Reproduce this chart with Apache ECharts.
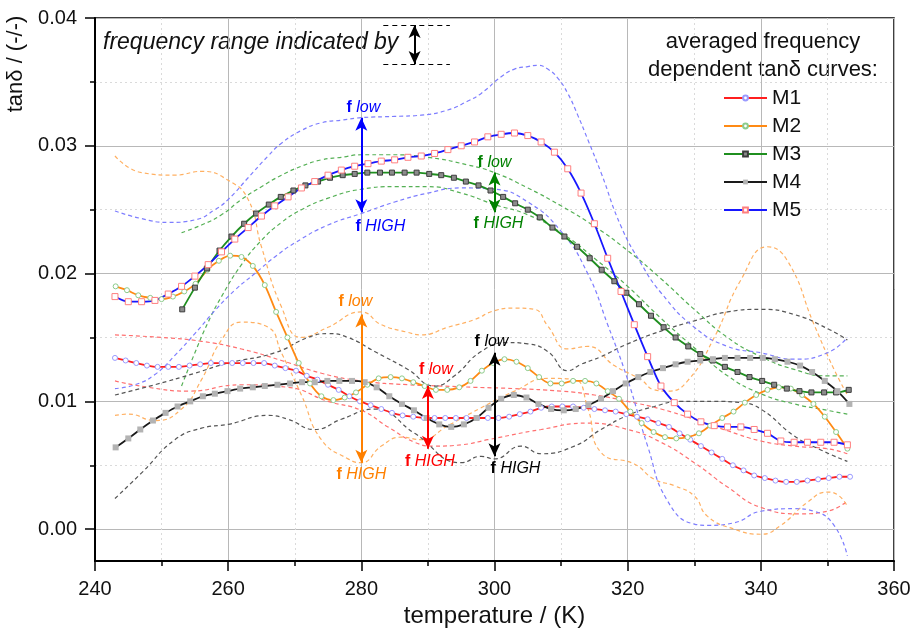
<!DOCTYPE html>
<html>
<head>
<meta charset="utf-8">
<title>tanδ vs temperature</title>
<script src="https://cdn.jsdelivr.net/npm/echarts@6/dist/echarts.min.js"></script>
<style>
  html, body { margin: 0; padding: 0; background: #fff; }
  #chart { width: 917px; height: 633px; }
</style>
</head>
<body>
<div id="chart"></div>
<script>
// averaged tanδ curves (markers), temperature in K
const m1T = [243.0, 244.6, 246.2, 247.8, 249.4, 251.0, 252.6, 254.2, 255.8, 257.4, 259.0, 260.6, 262.2, 263.8, 265.4, 267.0, 268.6, 270.2, 271.8, 273.4, 275.0, 276.6, 278.2, 279.8, 281.4, 283.0, 284.6, 286.2, 287.8, 289.4, 291.0, 292.6, 294.2, 295.8, 297.4, 299.0, 300.6, 302.2, 303.8, 305.4, 307.0, 308.6, 310.2, 311.8, 313.4, 315.0, 316.6, 318.2, 319.8, 321.4, 323.0, 324.6, 326.2, 327.8, 329.4, 331.0, 332.6, 334.2, 335.8, 337.4, 339.0, 340.6, 342.2, 343.8, 345.4, 347.0, 348.6, 350.2, 351.8, 353.4];
const m1 = [0.0134, 0.0132, 0.0130, 0.0128, 0.0127, 0.0127, 0.0127, 0.0128, 0.0129, 0.0130, 0.0130, 0.0130, 0.0130, 0.0130, 0.0130, 0.0128, 0.0126, 0.0124, 0.0120, 0.0117, 0.0113, 0.0109, 0.0104, 0.0100, 0.0097, 0.0094, 0.0091, 0.0089, 0.0088, 0.0087, 0.0087, 0.0087, 0.0087, 0.0087, 0.0087, 0.0087, 0.0087, 0.0088, 0.0090, 0.0092, 0.0095, 0.0096, 0.0096, 0.0096, 0.0095, 0.0094, 0.0093, 0.0092, 0.0090, 0.0088, 0.0086, 0.0083, 0.0080, 0.0075, 0.0070, 0.0065, 0.0060, 0.0055, 0.0050, 0.0046, 0.0042, 0.0040, 0.0038, 0.0037, 0.0037, 0.0038, 0.0039, 0.0040, 0.0041, 0.0041];

const m2T = [243.1, 244.8, 246.5, 248.3, 250.0, 251.7, 253.4, 255.1, 256.9, 258.6, 260.3, 262.0, 263.7, 265.5, 267.2, 268.9, 270.6, 272.3, 274.0, 275.8, 277.5, 279.2, 280.9, 282.6, 284.4, 286.1, 287.8, 289.5, 291.2, 292.9, 294.7, 296.4, 298.1, 299.8, 301.5, 303.3, 305.0, 306.7, 308.4, 310.1, 311.8, 313.6, 315.3, 317.0, 318.7, 320.4, 322.1, 323.9, 325.6, 327.3, 329.0, 330.7, 332.4, 334.2, 335.9, 337.6, 339.3, 341.0, 342.7, 344.5, 346.2, 347.9, 349.6, 351.3, 353.0];
const m2 = [0.0190, 0.0187, 0.0183, 0.0181, 0.0180, 0.0182, 0.0186, 0.0192, 0.0203, 0.0210, 0.0214, 0.0213, 0.0206, 0.0191, 0.0170, 0.0150, 0.0130, 0.0114, 0.0104, 0.0101, 0.0103, 0.0107, 0.0113, 0.0118, 0.0119, 0.0118, 0.0115, 0.0112, 0.0109, 0.0109, 0.0111, 0.0116, 0.0124, 0.0130, 0.0133, 0.0131, 0.0126, 0.0119, 0.0114, 0.0114, 0.0116, 0.0116, 0.0114, 0.0108, 0.0102, 0.0092, 0.0083, 0.0076, 0.0072, 0.0071, 0.0072, 0.0075, 0.0081, 0.0087, 0.0092, 0.0099, 0.0105, 0.0109, 0.0111, 0.0110, 0.0105, 0.0098, 0.0088, 0.0076, 0.0063];

const m3T = [253.1, 255.0, 256.8, 258.7, 260.5, 262.4, 264.2, 266.1, 267.9, 269.8, 271.6, 273.5, 275.3, 277.2, 279.0, 280.9, 282.8, 284.6, 286.5, 288.3, 290.2, 292.0, 293.9, 295.7, 297.6, 299.4, 301.3, 303.1, 305.0, 306.8, 308.7, 310.5, 312.4, 314.3, 316.1, 318.0, 319.8, 321.7, 323.5, 325.4, 327.2, 329.1, 330.9, 332.8, 334.6, 336.5, 338.3, 340.2, 342.0, 343.9, 345.8, 347.6, 349.5, 351.3, 353.2];
const m3 = [0.0172, 0.0189, 0.0204, 0.0218, 0.0229, 0.0239, 0.0247, 0.0254, 0.0260, 0.0265, 0.0269, 0.0272, 0.0275, 0.0277, 0.0278, 0.0279, 0.0279, 0.0279, 0.0279, 0.0279, 0.0278, 0.0277, 0.0275, 0.0272, 0.0269, 0.0265, 0.0260, 0.0255, 0.0250, 0.0244, 0.0236, 0.0229, 0.0221, 0.0212, 0.0203, 0.0194, 0.0185, 0.0176, 0.0167, 0.0158, 0.0150, 0.0143, 0.0137, 0.0132, 0.0127, 0.0123, 0.0119, 0.0116, 0.0113, 0.0110, 0.0108, 0.0107, 0.0107, 0.0107, 0.0109];

const m4T = [243.1, 245.0, 246.8, 248.7, 250.6, 252.4, 254.3, 256.2, 258.0, 259.9, 261.8, 263.7, 265.5, 267.4, 269.3, 271.1, 273.0, 274.9, 276.7, 278.6, 280.5, 282.3, 284.2, 286.1, 287.9, 289.8, 291.7, 293.5, 295.4, 297.3, 299.1, 301.0, 302.9, 304.8, 306.6, 308.5, 310.4, 312.2, 314.1, 316.0, 317.8, 319.7, 321.6, 323.4, 325.3, 327.2, 329.0, 330.9, 332.8, 334.6, 336.5, 338.4, 340.3, 342.1, 344.0, 345.9, 347.7, 349.6, 351.5, 353.3];
const m4 = [0.0064, 0.0071, 0.0078, 0.0085, 0.0091, 0.0096, 0.0100, 0.0104, 0.0106, 0.0108, 0.0110, 0.0111, 0.0112, 0.0113, 0.0114, 0.0115, 0.0115, 0.0116, 0.0116, 0.0116, 0.0115, 0.0111, 0.0104, 0.0098, 0.0093, 0.0087, 0.0082, 0.0080, 0.0082, 0.0087, 0.0095, 0.0102, 0.0105, 0.0103, 0.0098, 0.0094, 0.0093, 0.0094, 0.0097, 0.0102, 0.0108, 0.0114, 0.0119, 0.0123, 0.0126, 0.0129, 0.0131, 0.0132, 0.0133, 0.0134, 0.0134, 0.0134, 0.0134, 0.0133, 0.0131, 0.0128, 0.0123, 0.0116, 0.0108, 0.0098];

const m5T = [243, 245, 247, 249, 251, 253, 255, 257, 259, 261, 263, 265, 267, 269, 271, 273, 275, 277, 279, 281, 283, 285, 287, 289, 291, 293, 295, 297, 299, 301, 303, 305, 307, 309, 311, 313, 315, 317, 319, 321, 323, 325, 327, 329, 331, 333, 335, 337, 339, 341, 343, 345, 347, 349, 351, 353];
const m5 = [0.0182, 0.0178, 0.0178, 0.0179, 0.0184, 0.0190, 0.0198, 0.0207, 0.0217, 0.0227, 0.0236, 0.0245, 0.0253, 0.0260, 0.0267, 0.0272, 0.0277, 0.0281, 0.0284, 0.0286, 0.0288, 0.0289, 0.0291, 0.0292, 0.0294, 0.0297, 0.0300, 0.0303, 0.0307, 0.0309, 0.0310, 0.0308, 0.0303, 0.0295, 0.0282, 0.0263, 0.0239, 0.0212, 0.0186, 0.0160, 0.0135, 0.0112, 0.0099, 0.0090, 0.0084, 0.0081, 0.0080, 0.0080, 0.0078, 0.0075, 0.0069, 0.0068, 0.0068, 0.0068, 0.0068, 0.0066];

// frequency range curves (dashed): f low and f HIGH
const m1LowT = [243, 250, 256, 262, 268, 274, 280, 287, 292, 297, 303, 310, 315, 320, 325, 330, 335, 340, 345, 350, 353];
const m1Low = [0.0152, 0.0150, 0.0147, 0.0141, 0.0132, 0.0122, 0.0116, 0.0113, 0.0112, 0.0111, 0.0110, 0.0108, 0.0105, 0.0100, 0.0094, 0.0086, 0.0077, 0.0069, 0.0065, 0.0063, 0.0059];
const m1HighT = [243, 248, 254, 262, 269, 275, 280, 284, 288, 291, 295, 299, 307, 314, 320, 325, 330, 335, 340, 346, 350, 353];
const m1High = [0.0116, 0.0111, 0.0108, 0.0113, 0.0111, 0.0100, 0.0093, 0.0080, 0.0068, 0.0065, 0.0066, 0.0070, 0.0078, 0.0083, 0.0078, 0.0068, 0.0052, 0.0033, 0.0017, 0.0012, 0.0014, 0.0022];

const m2LowT = [243, 247, 252, 256, 260, 263, 265, 268, 271, 275, 280, 283, 287, 289, 293, 297, 300, 303, 306, 308, 311, 314, 318, 322, 324, 326, 329, 333, 337, 341, 344, 348, 351, 353];
const m2Low = [0.0292, 0.0279, 0.0277, 0.0280, 0.0273, 0.0258, 0.0221, 0.0174, 0.0150, 0.0158, 0.0170, 0.0160, 0.0154, 0.0152, 0.0158, 0.0164, 0.0171, 0.0173, 0.0172, 0.0159, 0.0141, 0.0143, 0.0128, 0.0117, 0.0109, 0.0108, 0.0116, 0.0150, 0.0195, 0.0221, 0.0210, 0.0160, 0.0125, 0.0105];
const m2HighT = [243, 245, 249, 253, 256, 259, 262, 266, 268, 271, 274, 278, 280, 283, 286, 289, 293, 298, 303, 308, 312, 314, 316, 321, 324, 327, 330, 332, 336, 340, 343, 347, 350, 351.5, 353];
const m2High = [0.0089, 0.0090, 0.0085, 0.0094, 0.0117, 0.0148, 0.0162, 0.0158, 0.0138, 0.0105, 0.0070, 0.0055, 0.0052, 0.0065, 0.0072, 0.0070, 0.0081, 0.0095, 0.0108, 0.0118, 0.0117, 0.0095, 0.0060, 0.0051, 0.0039, 0.0034, 0.0026, 0.0010, 0.0000, -0.0004, 0.0003, 0.0021, 0.0029, 0.0027, 0.0018];

const m3LowT = [253, 256, 259, 262, 265, 268, 271, 274, 277, 280, 284, 290, 296, 300, 305, 310, 315, 320, 325, 330, 335, 340, 345, 350, 353];
const m3Low = [0.0232, 0.0238, 0.0246, 0.0258, 0.0268, 0.0277, 0.0284, 0.0289, 0.0291, 0.0293, 0.0293, 0.0291, 0.0285, 0.0279, 0.0267, 0.0253, 0.0237, 0.0218, 0.0196, 0.0172, 0.0150, 0.0135, 0.0125, 0.0120, 0.0120];
const m3HighT = [253, 255, 257, 259, 262, 265, 268, 271, 275, 280, 285, 290, 295, 300, 305, 310, 315, 320, 325, 330, 335, 340, 345, 350, 353];
const m3High = [0.0112, 0.0138, 0.0162, 0.0182, 0.0207, 0.0226, 0.0240, 0.0250, 0.0259, 0.0266, 0.0268, 0.0268, 0.0263, 0.0254, 0.0246, 0.0232, 0.0212, 0.0190, 0.0165, 0.0142, 0.0120, 0.0106, 0.0098, 0.0093, 0.0090];

const m4LowT = [243, 249, 255, 260, 267, 272, 275, 278, 282, 287, 291, 294, 298, 302, 305, 308, 311, 313, 316, 320, 325, 330, 335, 340, 345, 350, 353];
const m4Low = [0.0105, 0.0113, 0.0122, 0.0130, 0.0138, 0.0150, 0.0153, 0.0150, 0.0139, 0.0125, 0.0112, 0.0120, 0.0139, 0.0146, 0.0145, 0.0139, 0.0124, 0.0129, 0.0135, 0.0145, 0.0155, 0.0163, 0.0170, 0.0172, 0.0168, 0.0157, 0.0148];
const m4HighT = [243, 247, 252, 256, 260, 266, 269, 273, 277, 282, 288, 295, 298, 300, 304, 307, 312, 316, 320, 324, 328, 333, 337, 340, 345, 349, 353];
const m4High = [0.0024, 0.0044, 0.0070, 0.0079, 0.0082, 0.0089, 0.0086, 0.0078, 0.0086, 0.0094, 0.0075, 0.0052, 0.0057, 0.0055, 0.0065, 0.0059, 0.0065, 0.0078, 0.0089, 0.0096, 0.0100, 0.0100, 0.0099, 0.0094, 0.0073, 0.0062, 0.0053];

const m5LowT = [243, 247, 251, 255, 258, 260, 263, 266, 268, 271, 274, 277, 280, 285, 289, 293, 296, 298, 301, 303, 305, 306.5, 308, 309.5, 311, 312.5, 314, 316, 319, 322, 325, 330, 335, 340, 345, 350, 353];
const m5Low = [0.0249, 0.0243, 0.0240, 0.0242, 0.0250, 0.0258, 0.0275, 0.0292, 0.0302, 0.0312, 0.0318, 0.0320, 0.0322, 0.0323, 0.0324, 0.0328, 0.0335, 0.0341, 0.0354, 0.0360, 0.0362, 0.0363, 0.0360, 0.0353, 0.0341, 0.0324, 0.0305, 0.0279, 0.0237, 0.0208, 0.0185, 0.0158, 0.0143, 0.0138, 0.0133, 0.0138, 0.0150];
const m5HighT = [243, 246, 249, 252, 255, 258, 261, 264, 267, 270, 275, 280, 285, 290, 295, 300, 305, 310, 314, 317, 320, 323, 326, 330, 332, 336, 340, 345, 348, 351, 353];
const m5High = [0.0110, 0.0113, 0.0121, 0.0136, 0.0153, 0.0171, 0.0187, 0.0200, 0.0213, 0.0224, 0.0238, 0.0247, 0.0256, 0.0263, 0.0267, 0.0266, 0.0256, 0.0233, 0.0200, 0.0160, 0.0117, 0.0065, 0.0022, 0.0004, 0.0003, 0.0005, 0.0014, 0.0016, 0.0014, 0.0003, -0.0021];

// frequency range arrows, order: M5, M3, M2, M1, M4
const arrowT = [280, 300, 280, 290, 300];
const arrowLow = [0.0322, 0.0279, 0.0168, 0.0112, 0.0138];
const arrowHigh = [0.0248, 0.0248, 0.0052, 0.0063, 0.0057];

// key in the top left corner
const keyT = 288;
const keyTop = 0.03945;
const keyBottom = 0.0364;
const keyFrom = 283.3;
const keyTo = 293.3;

const FONT = '"Liberation Sans", Arial, sans-serif';

function pairs(t, v) {
  return t.map((x, i) => [x, v[i]]);
}

function mainSeries(name, t, v, lineColor, symbol, size, fill, border) {
  return {
    name,
    type: 'line',
    data: pairs(t, v),
    z: 4,
    smooth: 0.3,
    symbol,
    symbolSize: size,
    showSymbol: true,
    lineStyle: { color: lineColor, width: 1.8 },
    itemStyle: { color: fill, borderColor: border, borderWidth: border ? 1 : 0 }
  };
}

function bandSeries(name, t, v, color) {
  return {
    name,
    type: 'line',
    data: pairs(t, v),
    z: 2,
    smooth: 0.5,
    showSymbol: false,
    symbol: 'none',
    lineStyle: { color, width: 1.2, type: [4, 3] },
    itemStyle: { color }
  };
}

function arrowMark(i, color) {
  return {
    silent: true,
    animation: false,
    symbol: ['arrow', 'arrow'],
    symbolSize: [9, 13],
    label: { show: false },
    lineStyle: { color, width: 2, type: 'solid' },
    data: [[{ coord: [arrowT[i], arrowLow[i]] }, { coord: [arrowT[i], arrowHigh[i]] }]]
  };
}

function labelMark(i, color, lowOff, highOff) {
  const rich = {
    b: { fontWeight: 'bold', fontSize: 16, color, fontFamily: FONT },
    i: { fontStyle: 'italic', fontSize: 16, color, fontFamily: FONT }
  };
  return {
    silent: true,
    animation: false,
    symbol: 'circle',
    symbolSize: 1,
    itemStyle: { color: 'rgba(0,0,0,0)' },
    label: { show: true, position: 'inside', color, fontSize: 16, fontFamily: FONT, rich },
    data: [
      { coord: [arrowT[i], arrowLow[i]], label: { formatter: '{b|f} {i|low}', offset: lowOff } },
      { coord: [arrowT[i], arrowHigh[i]], label: { formatter: '{b|f} {i|HIGH}', offset: highOff } }
    ]
  };
}

const m5LowSeries = bandSeries('M5 f low', m5LowT, m5Low, '#7d7dff');
m5LowSeries.markLine = arrowMark(0, '#0000ff');
m5LowSeries.markPoint = labelMark(0, '#0000ff', [2, -10], [19, 14]);

const m3LowSeries = bandSeries('M3 f low', m3LowT, m3Low, '#55b055');
m3LowSeries.markLine = arrowMark(1, '#008000');
m3LowSeries.markPoint = labelMark(1, '#008000', [0, -10], [4, 11]);

const m2LowSeries = bandSeries('M2 f low', m2LowT, m2Low, '#ffb062');
m2LowSeries.markLine = arrowMark(2, '#ff8000');
m2LowSeries.markPoint = labelMark(2, '#ff8000', [-6, -13], [0, 12]);

const m1LowSeries = bandSeries('M1 f low', m1LowT, m1Low, '#ff7070');
m1LowSeries.markLine = arrowMark(3, '#ff0000');
m1LowSeries.markPoint = labelMark(3, '#ff0000', [8, -16], [2, 13]);

const m4LowSeries = bandSeries('M4 f low', m4LowT, m4Low, '#555555');
m4LowSeries.markLine = arrowMark(4, '#000000');
m4LowSeries.markPoint = labelMark(4, '#000000', [-3, -11], [21, 12]);

const keySeries = {
  name: 'key',
  type: 'line',
  data: [],
  markLine: {
    silent: true,
    animation: false,
    symbol: ['arrow', 'arrow'],
    symbolSize: [9, 13],
    label: { show: false },
    lineStyle: { color: '#000', width: 2, type: 'solid' },
    data: [
      [{ coord: [keyT, keyTop] }, { coord: [keyT, keyBottom] }],
      [{ coord: [keyFrom, keyTop], symbol: 'none', lineStyle: { width: 1, type: [5, 4] } }, { coord: [keyTo, keyTop], symbol: 'none' }],
      [{ coord: [keyFrom, keyBottom], symbol: 'none', lineStyle: { width: 1, type: [5, 4] } }, { coord: [keyTo, keyBottom], symbol: 'none' }]
    ]
  }
};

const option = {
  animation: false,
  backgroundColor: '#fff',
  textStyle: { fontFamily: FONT },
  grid: {
    left: 95, right: 23, top: 18, bottom: 70,
    show: true, borderColor: '#000', borderWidth: 1.5, backgroundColor: 'transparent'
  },
  legend: {
    data: ['M1', 'M2', 'M3', 'M4', 'M5'],
    orient: 'vertical',
    left: 718,
    top: 82,
    itemWidth: 43,
    itemHeight: 6,
    itemGap: 6,
    textStyle: { fontSize: 21, lineHeight: 22, color: '#111', fontFamily: FONT }
  },
  graphic: [
    {
      type: 'text', x: 16, y: 64, rotation: Math.PI / 2,
      style: { text: 'tanδ / (-/-)', align: 'center', verticalAlign: 'middle', font: '22px ' + FONT, fill: '#111' }
    },
    {
      type: 'text', x: 763, y: 28,
      style: { text: 'averaged frequency\ndependent tanδ curves:', align: 'center', verticalAlign: 'top', font: '22px ' + FONT, lineHeight: 28, fill: '#111' }
    },
    {
      type: 'text', x: 103, y: 43,
      style: { text: 'frequency range indicated by', align: 'left', verticalAlign: 'middle', font: 'italic 23px ' + FONT, fill: '#111' }
    }
  ],
  xAxis: {
    type: 'value',
    min: 240,
    max: 360,
    interval: 20,
    name: 'temperature / (K)',
    nameLocation: 'middle',
    nameGap: 38,
    nameTextStyle: { fontSize: 24, color: '#111', fontFamily: FONT },
    axisLine: { onZero: false, lineStyle: { color: '#000', width: 2 } },
    axisTick: { length: 10, lineStyle: { color: '#000', width: 1.5 } },
    minorTick: { show: true, splitNumber: 2, length: 5, lineStyle: { color: '#000', width: 1.5 } },
    axisLabel: { fontSize: 20, margin: 18, color: '#111', fontFamily: FONT },
    splitLine: { show: true, lineStyle: { color: '#b8b8b8', width: 1 } },
    minorSplitLine: { show: true, lineStyle: { color: '#dadada', width: 1, type: [2, 3] } }
  },
  yAxis: [
    {
      type: 'value',
      min: -0.0025,
      max: 0.04,
      splitNumber: 4,
      axisLine: { show: true, onZero: false, lineStyle: { color: '#000', width: 2 } },
      axisTick: { show: true, length: 10, lineStyle: { color: '#000', width: 1.5 }, customValues: [0, 0.01, 0.02, 0.03, 0.04] },
      axisLabel: {
        fontSize: 20, margin: 18, color: '#111', fontFamily: FONT,
        formatter: (v) => (Math.abs(Math.round(v * 100) - v * 100) < 1e-6 ? v.toFixed(2) : '')
      },
      splitLine: { show: true, lineStyle: { color: '#b8b8b8', width: 1 } }
    },
    {
      // shifted copy of the scale, only for the 0.005 minor ticks and dotted lines
      type: 'value',
      position: 'left',
      min: 0.0025,
      max: 0.045,
      splitNumber: 4,
      axisLine: { show: false },
      axisTick: { show: true, length: 5, lineStyle: { color: '#000', width: 1.5 }, customValues: [0.01, 0.02, 0.03, 0.04] },
      axisLabel: { show: false },
      splitLine: { show: true, lineStyle: { color: '#dadada', width: 1, type: [2, 3] } }
    }
  ],
  series: [
    m1LowSeries,
    bandSeries('M1 f HIGH', m1HighT, m1High, '#ff7070'),
    m2LowSeries,
    bandSeries('M2 f HIGH', m2HighT, m2High, '#ffb062'),
    m3LowSeries,
    bandSeries('M3 f HIGH', m3HighT, m3High, '#55b055'),
    m4LowSeries,
    bandSeries('M4 f HIGH', m4HighT, m4High, '#555555'),
    m5LowSeries,
    bandSeries('M5 f HIGH', m5HighT, m5High, '#7d7dff'),
    keySeries,
    mainSeries('M1', m1T, m1, '#ff1f1f', 'circle', 5, '#ffffff', '#9a9aff'),
    mainSeries('M2', m2T, m2, '#ff8a14', 'circle', 5, '#ffffff', '#8ccc8c'),
    mainSeries('M3', m3T, m3, '#1f8f1f', 'rect', 5, '#8c8c8c', '#3c3c3c'),
    mainSeries('M4', m4T, m4, '#1a1a1a', 'rect', 6, '#b3b3b3', null),
    mainSeries('M5', m5T, m5, '#1717ff', 'rect', 6, '#ffffff', '#ff7f7f')
  ]
};

const chart = echarts.init(document.getElementById('chart'));
chart.setOption(option);
window.addEventListener('resize', () => chart.resize());
</script>
</body>
</html>
